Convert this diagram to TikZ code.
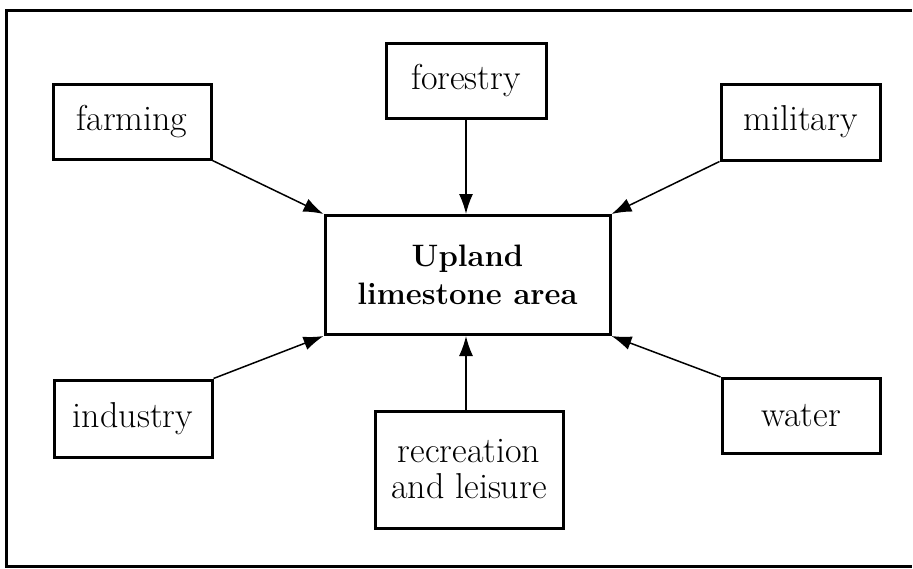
\documentclass[tikz,border=0pt]{standalone}
\usetikzlibrary{arrows.meta}
\begin{document}
\begin{tikzpicture}[x=1pt,y=-1pt,
  box/.style={draw,line width=3pt,inner sep=0pt,font=\fontsize{36}{36}\selectfont,align=center},
  conn/.style={line width=1.5pt,-{Latex[length=20pt,width=14pt]}}]
\useasboundingbox (0,0) rectangle (913,568);
\draw[line width=3pt] (912,10) -- (6,10) -- (6,566) -- (912,566);
\node[box,minimum width=158pt,minimum height=75pt] (farm) at (132,121.5) {farming};
\node[box,minimum width=160pt,minimum height=75pt] (forest) at (466,80.5) {forestry};
\node[box,minimum width=159pt,minimum height=76pt] (mil) at (800.5,122) {military};
\node[box,minimum width=285pt,minimum height=119pt,font=\fontsize{31}{38}\selectfont\bfseries] (up) at (467.5,275) {Upland\\limestone area};
\node[box,minimum width=158pt,minimum height=77pt] (ind) at (133,418.5) {industry};
\node[box,minimum width=188pt,minimum height=117pt] (rec) at (469,469.5) {recreation\\and leisure};
\node[box,minimum width=158pt,minimum height=75pt] (wat) at (801,416) {water};
\draw[conn] (farm.south east) -- (up.north west);
\draw[conn] (forest.south) -- (forest.south |- up.north);
\draw[conn] (mil.south west) -- (up.north east);
\draw[conn] (ind.north east) -- (up.south west);
\draw[conn] (rec.north -| forest.south) -- (forest.south |- up.south);
\draw[conn] (wat.north west) -- (up.south east);
\end{tikzpicture}
\end{document}
